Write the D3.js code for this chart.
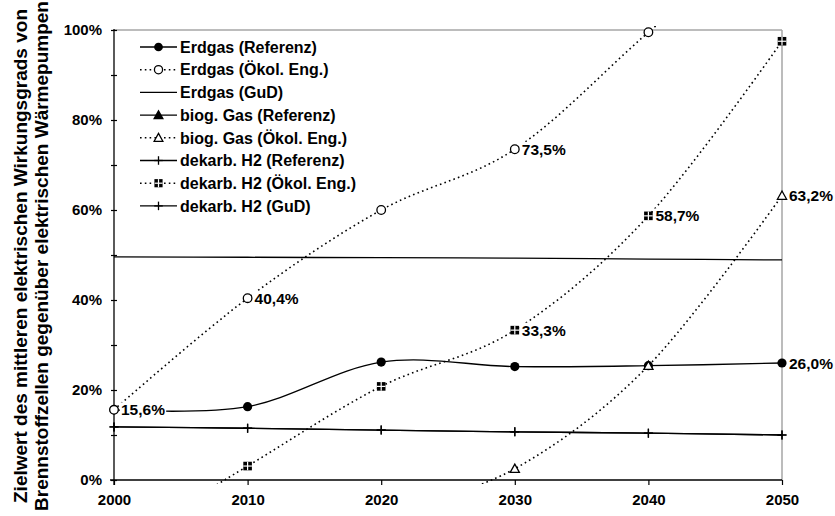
<!DOCTYPE html>
<html><head><meta charset="utf-8">
<script src="https://cdn.jsdelivr.net/npm/d3@7"></script>
<style>body{margin:0;background:#fff}svg{display:block}text{font-family:Arial,"Liberation Sans",sans-serif;font-weight:bold;fill:#000}</style>
</head><body><svg id="c" width="835" height="516"></svg>
<script>
const years = [2000, 2010, 2020, 2030, 2040, 2050];
const yTicks = [0, 0.2, 0.4, 0.6, 0.8, 1.0];
const yTickLabels = ["0%", "20%", "40%", "60%", "80%", "100%"];
const yTitle = ["Zielwert des mittleren elektrischen Wirkungsgrads von", "Brennstoffzellen gegenüber elektrischen Wärmepumpen"];

// series values (fractions); points outside 0..100% are clipped by the plot area
const erdgasRef   = [[2000,0.156],[2010,0.163],[2020,0.262],[2030,0.252],[2040,0.254],[2050,0.260]];
const erdgasOeko  = [[2000,0.156],[2010,0.404],[2020,0.600],[2030,0.735],[2040,0.995],[2050,1.25]];
const erdgasGuD   = [[2000,0.496],[2010,0.495],[2020,0.494],[2030,0.493],[2040,0.491],[2050,0.489]];
const biogasRef   = [];
const biogasOeko  = [[2020,-0.08],[2030,0.025],[2040,0.254],[2050,0.632]];
const h2Ref       = [[2000,0.118],[2010,0.115],[2020,0.111],[2030,0.107],[2040,0.104],[2050,0.100]];
const h2Oeko      = [[2000,-0.15],[2010,0.031],[2020,0.208],[2030,0.333],[2040,0.587],[2050,0.975]];
const h2GuD       = [[2000,0.118],[2010,0.115],[2020,0.111],[2030,0.107],[2040,0.104],[2050,0.100]];

const seriesNames = ["Erdgas (Referenz)","Erdgas (Ökol. Eng.)","Erdgas (GuD)","biog. Gas (Referenz)","biog. Gas (Ökol. Eng.)","dekarb. H2 (Referenz)","dekarb. H2 (Ökol. Eng.)","dekarb. H2 (GuD)"];
const seriesData = [erdgasRef, erdgasOeko, erdgasGuD, biogasRef, biogasOeko, h2Ref, h2Oeko, h2GuD];
const seriesMarker = ["dot","ring","none","tri","otri","plus","sq","plus"];
const seriesDotted = [false,true,false,false,true,false,true,false];

// data labels: [series index, year, text]
const dataLabels = [[1,2000,"15,6%"],[1,2010,"40,4%"],[1,2030,"73,5%"],[6,2030,"33,3%"],[6,2040,"58,7%"],[4,2050,"63,2%"],[0,2050,"26,0%"]];

const svg = d3.select("#c");
const L = 114, R = 782, T = 30, B = 480;
const x = d3.scaleLinear().domain([2000, 2050]).range([L, R]);
const y = d3.scaleLinear().domain([0, 1]).range([B, T]);

// borders
svg.append("line").attr("x1",L).attr("x2",R).attr("y1",T).attr("y2",T).attr("stroke","#a6a6a6").attr("stroke-width",1.5);
svg.append("line").attr("x1",R).attr("x2",R).attr("y1",T).attr("y2",B).attr("stroke","#a6a6a6").attr("stroke-width",1.5);

// y axis
const ya = svg.append("g").attr("transform",`translate(${L},0)`)
  .call(d3.axisLeft(y).tickValues(d3.range(0,1.001,0.1)).tickSize(4).tickFormat(""));
ya.select(".domain").remove();
ya.selectAll(".tick line").attr("x2",-3).attr("x1",3).attr("stroke","#000").attr("stroke-width",1.2);
svg.selectAll(".ylab").data(yTicks).join("text").attr("class","ylab")
  .attr("x", L-12).attr("y", d=>y(d)).attr("dy","0.35em").attr("text-anchor","end")
  .style("font-size","15px").text((d,i)=>yTickLabels[i]);
svg.append("line").attr("x1",L).attr("x2",L).attr("y1",T-1).attr("y2",B+5).attr("stroke","#000").attr("stroke-width",1.3);

// x axis
const xa = svg.append("g").attr("transform",`translate(0,${B})`)
  .call(d3.axisBottom(x).tickValues(years).tickSize(5).tickFormat(d3.format("d")));
xa.select(".domain").remove();
xa.selectAll(".tick line").attr("stroke","#000").attr("stroke-width",1.2);
xa.selectAll(".tick text").attr("y",14).attr("dy","0.72em").style("font-size","15px").style("font-family","Arial,'Liberation Sans',sans-serif").style("font-weight","bold").attr("fill","#000");
svg.append("line").attr("x1",L-4).attr("x2",R).attr("y1",B).attr("y2",B).attr("stroke","#000").attr("stroke-width",1.3);

// y title
yTitle.forEach((t,i)=>{
  svg.append("text").attr("transform",`translate(${27+i*21},${256}) rotate(-90)`)
    .attr("text-anchor","middle").style("font-size","19px").text(t);
});

// clip
svg.append("clipPath").attr("id","clip").append("rect").attr("x",L).attr("y",T-4).attr("width",R-L+4).attr("height",B-T+8);

const line = d3.line().x(d=>x(d[0])).y(d=>y(d[1])).curve(d3.curveCardinal.tension(0));
const plot = svg.append("g").attr("clip-path","url(#clip)");

function drawMarker(g, type, cx, cy, s) {
  s = s || 1;
  if (type==="dot") g.append("circle").attr("cx",cx).attr("cy",cy).attr("r",4.6*s).attr("fill","#000");
  else if (type==="ring") g.append("circle").attr("cx",cx).attr("cy",cy).attr("r",4.3*s).attr("fill","#fff").attr("stroke","#000").attr("stroke-width",1.3);
  else if (type==="tri"||type==="otri") {
    const h=4.6*s;
    g.append("path").attr("d",`M${cx},${cy-h}L${cx+h},${cy+h*0.8}L${cx-h},${cy+h*0.8}Z`)
      .attr("fill", type==="tri"?"#000":"#fff").attr("stroke","#000").attr("stroke-width",1.3);
  } else if (type==="sq") {
    const h=4.3*s;
    g.append("rect").attr("x",cx-h).attr("y",cy-h).attr("width",2*h).attr("height",2*h).attr("fill","#000");
    g.append("line").attr("x1",cx-h).attr("x2",cx+h).attr("y1",cy).attr("y2",cy).attr("stroke","#fff").attr("stroke-width",1.2);
    g.append("line").attr("x1",cx).attr("x2",cx).attr("y1",cy-h).attr("y2",cy+h).attr("stroke","#fff").attr("stroke-width",1.2);
  } else if (type==="plus") {
    const h=4.5*s;
    g.append("line").attr("x1",cx-h).attr("x2",cx+h).attr("y1",cy).attr("y2",cy).attr("stroke","#000").attr("stroke-width",1.3);
    g.append("line").attr("x1",cx).attr("x2",cx).attr("y1",cy-h).attr("y2",cy+h).attr("stroke","#000").attr("stroke-width",1.3);
  }
}

// lines
seriesData.forEach((data,i)=>{
  if (!data.length) return;
  plot.append("path").datum(data).attr("d",line).attr("fill","none").attr("stroke","#000")
    .attr("stroke-width", seriesDotted[i]?1.6:1.3)
    .attr("stroke-dasharray", seriesDotted[i]?"1.6,3.2":null);
});

// data labels (white background)
const labG = svg.append("g");
dataLabels.forEach(([si,yr,txt])=>{
  const p = seriesData[si].find(d=>d[0]===yr);
  const t = labG.append("text").attr("x",x(p[0])+7).attr("y",y(p[1])).attr("dy","0.36em").style("font-size","15.5px").text(txt);
  const bb = t.node().getBBox();
  labG.insert("rect","text").attr("x",bb.x-1).attr("y",bb.y+1).attr("width",bb.width+2).attr("height",bb.height-2).attr("fill","#fff");
});

// markers
const mk = svg.append("g");
seriesData.forEach((data,i)=>{
  if (seriesMarker[i]==="none") return;
  data.forEach(d=>{ if (d[1]>=0 && d[1]<=1) drawMarker(mk, seriesMarker[i], x(d[0]), y(d[1])); });
});

// legend
const lg = svg.append("g");
seriesNames.forEach((n,i)=>{
  const cy = 47 + i*22.7;
  lg.append("line").attr("x1",140).attr("x2",177).attr("y1",cy).attr("y2",cy).attr("stroke","#000")
    .attr("stroke-width", seriesDotted[i]?1.6:1.3).attr("stroke-dasharray", seriesDotted[i]?"1.6,3.2":null);
  drawMarker(lg, seriesMarker[i], 158.5, cy, 0.95);
  lg.append("text").attr("x",180).attr("y",cy).attr("dy","0.36em").style("font-size","16px").text(n);
});
</script></body></html>
